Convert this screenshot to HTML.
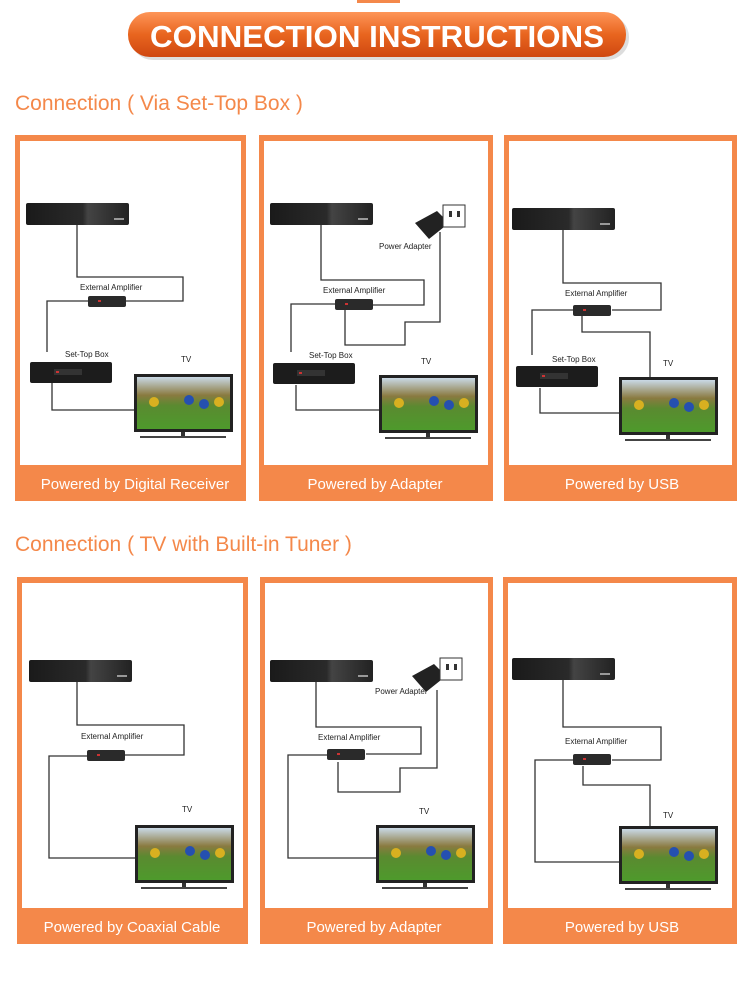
<!DOCTYPE html>
<html><head><style>
body{margin:0;width:750px;height:990px;background:#fff;overflow:hidden;font-family:"Liberation Sans",sans-serif}
</style></head><body>
<svg width="750" height="990" viewBox="0 0 750 990" xmlns="http://www.w3.org/2000/svg" font-family="Liberation Sans, sans-serif">
<defs>
<linearGradient id="pill" x1="0" y1="0" x2="0" y2="1"><stop offset="0" stop-color="#fe9558"/><stop offset="0.5" stop-color="#e8651f"/><stop offset="1" stop-color="#cf4710"/></linearGradient>
<linearGradient id="ant" x1="0" y1="0" x2="1" y2="0"><stop offset="0" stop-color="#1a1a1a"/><stop offset="0.55" stop-color="#2a2a2a"/><stop offset="0.6" stop-color="#444"/><stop offset="1" stop-color="#222"/></linearGradient>
<linearGradient id="scr" x1="0" y1="0" x2="0" y2="1"><stop offset="0" stop-color="#c9d9e6"/><stop offset="0.35" stop-color="#8a7a40"/><stop offset="0.55" stop-color="#5a8a30"/><stop offset="1" stop-color="#4e9a2c"/></linearGradient>
<g id="tv"><rect x="0" y="0" width="99" height="58" fill="#222"/><rect x="3" y="3" width="93" height="52" fill="url(#scr)"/><circle cx="20" cy="28" r="5" fill="#d8b020"/><circle cx="55" cy="26" r="5" fill="#2550b0"/><circle cx="70" cy="30" r="5" fill="#2550b0"/><circle cx="85" cy="28" r="5" fill="#d8b020"/><rect x="47" y="58" width="4" height="4" fill="#333"/><rect x="6" y="62" width="86" height="2" fill="#444"/></g>
<g id="ant1"><rect x="0" y="0" width="103" height="22" rx="2" fill="url(#ant)"/><rect x="88" y="15" width="10" height="2" fill="#999"/></g>
<g id="stb"><rect x="0" y="0" width="82" height="21" rx="2" fill="#1c1c1c"/><rect x="24" y="7" width="28" height="6" fill="#333"/><rect x="26" y="9" width="3" height="2" fill="#c33"/></g>
<g id="amp"><rect x="0" y="0" width="38" height="11" rx="2" fill="#2a2a2a"/><rect x="10" y="4" width="3" height="2" fill="#c33"/></g>
<g id="adp"><path d="M0 18 L22 6 L34 18 L14 34 Z" fill="#222"/><rect x="28" y="0" width="22" height="22" fill="#fff" stroke="#333"/><rect x="34" y="6" width="3" height="6" fill="#333"/><rect x="42" y="6" width="3" height="6" fill="#333"/></g>
</defs>
<rect x="357" y="0" width="43" height="3" fill="#f4884a"/>
<rect x="131" y="15" width="498" height="45" rx="22" fill="#bbb" opacity="0.5"/>
<rect x="128" y="12" width="498" height="45" rx="22" fill="url(#pill)"/>
<text x="377" y="47" text-anchor="middle" font-size="31" font-weight="bold" fill="#fff" textLength="454" lengthAdjust="spacingAndGlyphs">CONNECTION INSTRUCTIONS</text>
<text x="15" y="110" font-size="21" fill="#f4884a">Connection ( Via Set-Top Box )</text>
<text x="15" y="551" font-size="21" fill="#f4884a">Connection ( TV with Built-in Tuner )</text>
<g fill="#f4884a">
<rect x="15" y="135" width="231" height="366"/><rect x="259" y="135" width="234" height="366"/><rect x="504" y="135" width="233" height="366"/>
<rect x="17" y="577" width="231" height="367"/><rect x="260" y="577" width="233" height="367"/><rect x="503" y="577" width="234" height="367"/>
</g>
<g fill="#fff">
<rect x="20" y="141" width="221" height="324"/><rect x="264" y="141" width="224" height="324"/><rect x="509" y="141" width="223" height="324"/>
<rect x="22" y="583" width="221" height="325"/><rect x="265" y="583" width="223" height="325"/><rect x="508" y="583" width="224" height="325"/>
</g>
<g fill="#fff" font-size="15" text-anchor="middle">
<text x="135" y="489">Powered by Digital Receiver</text><text x="375" y="489">Powered by Adapter</text><text x="622" y="489">Powered by USB</text>
<text x="132" y="932">Powered by Coaxial Cable</text><text x="374" y="932">Powered by Adapter</text><text x="622" y="932">Powered by USB</text>
</g>
<g fill="none" stroke="#333" stroke-width="1.3">
<path d="M77 225 V277 H183 V301 H125"/><path d="M88 301 H47 V352"/><path d="M52 383 V410 H135"/>
<path d="M321 225 V280 H424 V305 H372"/><path d="M335 304 H291 V352"/><path d="M440 232 V322 H405 V345 H345 V310"/><path d="M296 385 V410 H379"/>
<path d="M563 230 V283 H661 V310 H612"/><path d="M573 310 H532 V355"/><path d="M582 316 V332 H650 V377"/><path d="M540 388 V413 H619"/>
<path d="M77 682 V725 H184 V755 H124"/><path d="M87 756 H49 V858 H135"/>
<path d="M316 682 V727 H421 V754 H366"/><path d="M327 755 H288 V858 H376"/><path d="M437 690 V768 H400 V792 H338 V762"/>
<path d="M563 680 V727 H661 V760 H612"/><path d="M573 760 H535 V862 H619"/><path d="M583 766 V785 H650 V828"/>
</g>
<use href="#ant1" x="26" y="203"/><use href="#ant1" x="270" y="203"/><use href="#ant1" x="512" y="208"/>
<use href="#ant1" x="29" y="660"/><use href="#ant1" x="270" y="660"/><use href="#ant1" x="512" y="658"/>
<use href="#amp" x="88" y="296"/><use href="#amp" x="335" y="299"/><use href="#amp" x="573" y="305"/>
<use href="#amp" x="87" y="750"/><use href="#amp" x="327" y="749"/><use href="#amp" x="573" y="754"/>
<use href="#stb" x="30" y="362"/><use href="#stb" x="273" y="363"/><use href="#stb" x="516" y="366"/>
<use href="#tv" x="134" y="374"/><use href="#tv" x="379" y="375"/><use href="#tv" x="619" y="377"/>
<use href="#tv" x="135" y="825"/><use href="#tv" x="376" y="825"/><use href="#tv" x="619" y="826"/>
<use href="#adp" x="415" y="205"/><use href="#adp" x="412" y="658"/>
<g font-size="8" fill="#222">
<text x="80" y="290">External Amplifier</text><text x="65" y="357">Set-Top Box</text><text x="181" y="362">TV</text>
<text x="323" y="293">External Amplifier</text><text x="309" y="358">Set-Top Box</text><text x="421" y="364">TV</text><text x="379" y="249">Power Adapter</text>
<text x="565" y="296">External Amplifier</text><text x="552" y="362">Set-Top Box</text><text x="663" y="366">TV</text>
<text x="81" y="739">External Amplifier</text><text x="182" y="812">TV</text>
<text x="318" y="740">External Amplifier</text><text x="419" y="814">TV</text><text x="375" y="694">Power Adapter</text>
<text x="565" y="744">External Amplifier</text><text x="663" y="818">TV</text>
</g>
</svg>
</body></html>
